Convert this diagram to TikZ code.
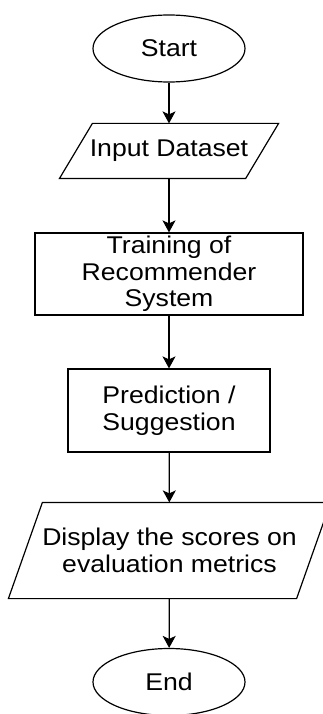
\documentclass[tikz,border=0pt]{standalone}
\usepackage{fontspec}
\setmainfont{Liberation Sans}[FakeStretch=1.1]
\usetikzlibrary{arrows.meta,shapes.geometric}

\begin{document}
\begin{tikzpicture}[x=1pt,y=-1pt,>={Stealth[length=12pt,width=13pt,inset=3pt]},line width=1.2pt,
  font=\fontsize{24.2}{26.5}\selectfont,
  term/.style={draw,ellipse,minimum width=152pt,minimum height=67pt,inner sep=0pt},
  proc/.style={draw,rectangle,align=center,inner sep=0pt},
  io/.style={rectangle,align=center,inner sep=0pt}]
\clip (0,0) rectangle (323,714);
\node[term] (start) at (169,48.5) {Start};
\node[io,minimum width=218pt,minimum height=54pt] (input) at (169,151) {Input Dataset};
\node[proc,minimum width=268pt,minimum height=82pt] (train) at (169,274) {Training of\\Recommender\\System};
\node[proc,minimum width=202pt,minimum height=83pt] (pred) at (169,410.5) {Prediction /\\Suggestion};
\node[io,minimum width=321pt,minimum height=95pt] (disp) at (169.5,550.5) {Display the scores on\\evaluation metrics};
\node[term] (stop) at (169,682) {End};
\draw (input.south west) -- ([xshift=-33pt]input.south east) -- (input.north east)
  -- ([xshift=33pt]input.north west) -- cycle;
\draw (disp.south west) -- ([xshift=-34pt]disp.south east) -- (disp.north east)
  -- ([xshift=34pt]disp.north west) -- cycle;
\draw[->] (start) -- (input);
\draw[->] (input) -- (train);
\draw[->] (train) -- (pred);
\draw[->] (pred) -- (disp);
\draw[->] (disp) -- (stop);
\end{tikzpicture}
\end{document}
